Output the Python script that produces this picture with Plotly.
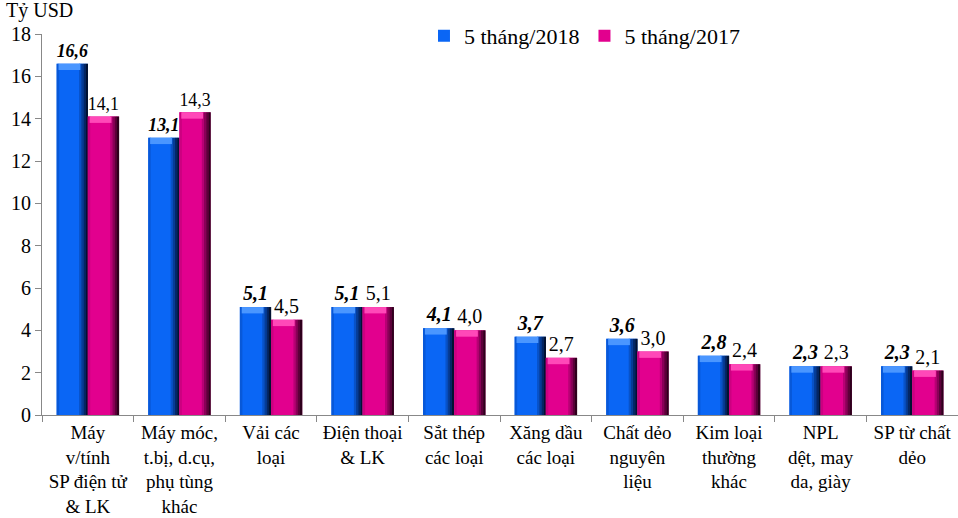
import plotly.graph_objects as go

categories = ["Máy<br>v/tính<br>SP điện tử<br>& LK", "Máy móc,<br>t.bị, d.cụ,<br>phụ tùng<br>khác",
              "Vải các<br>loại", "Điện thoại<br>& LK", "Sắt thép<br>các loại", "Xăng dầu<br>các loại",
              "Chất dẻo<br>nguyên<br>liệu", "Kim loại<br>thường<br>khác", "NPL<br>dệt, may<br>da, giày",
              "SP từ chất<br>dẻo"]
vals_2018 = [16.6, 13.1, 5.1, 5.1, 4.1, 3.7, 3.6, 2.8, 2.3, 2.3]
vals_2017 = [14.1, 14.3, 4.5, 5.1, 4.0, 2.7, 3.0, 2.4, 2.3, 2.1]
series_names = ["5 tháng/2018", "5 tháng/2017"]
y_ticks = [0, 2, 4, 6, 8, 10, 12, 14, 16, 18]

FONT = "Liberation Serif"
W = 0.34  # bar width in category units

def fmt(v):
    return f"{v:.1f}".replace(".", ",")

fig = go.Figure()

styles = [
    dict(vals=vals_2018, name=series_names[0], off=-W, main="#0a66f5",
         shades=["#0852c8", "#063c96", "#042664", "#021232"], light="#4a96ff", left="#0858d8",
         tfont=dict(family=FONT, size=20, color="black", weight="bold", style="italic")),
    dict(vals=vals_2017, name=series_names[1], off=0.0, main="#e2008e",
         shades=["#b80074", "#8a0058", "#5c003a", "#2e001c"], light="#ff48b8", left="#cc0080",
         tfont=dict(family=FONT, size=20, color="black")),
]

for s in styles:
    # main bar
    fig.add_trace(go.Bar(
        x=categories, y=s["vals"], name=s["name"], offset=s["off"], width=W,
        marker=dict(color=s["main"], line=dict(width=0)),
        text=[fmt(v) for v in s["vals"]], textposition="outside", textfont=s["tfont"],
        cliponaxis=False, hoverinfo="skip",
    ))
    # left slight shade
    fig.add_trace(go.Bar(
        x=categories, y=s["vals"], offset=s["off"], width=W * 0.08, showlegend=False,
        marker=dict(color=s["left"], line=dict(width=0)), hoverinfo="skip", textposition="none",
    ))
    # right dark gradient strips
    n = len(s["shades"])
    for i, c in enumerate(s["shades"]):
        frac0 = 0.72 + i * (0.28 / n)
        fig.add_trace(go.Bar(
            x=categories, y=s["vals"], offset=s["off"] + W * frac0, width=W * 0.28 / n + 0.002,
            showlegend=False, marker=dict(color=c, line=dict(width=0)),
            hoverinfo="skip", textposition="none",
        ))
    # top bevel highlight
    fig.add_trace(go.Bar(
        x=categories, y=[0.3] * len(s["vals"]), base=[v - 0.3 for v in s["vals"]],
        offset=s["off"] + W * 0.06, width=W * 0.7, showlegend=False,
        marker=dict(color=s["light"], line=dict(width=0)), hoverinfo="skip", textposition="none",
    ))

fig.update_layout(
    width=958, height=518,
    barmode="overlay",
    plot_bgcolor="white", paper_bgcolor="white",
    margin=dict(l=42, r=0, t=34, b=103, autoexpand=False),
    font=dict(family=FONT, size=19, color="black"),
    showlegend=True,
    legend=dict(orientation="h", x=0.417, y=1.05, xanchor="left", yanchor="top",
                font=dict(family=FONT, size=22), bgcolor="rgba(0,0,0,0)",
                itemwidth=30, traceorder="normal"),
    annotations=[dict(text="Tỷ USD", xref="paper", yref="paper", x=-0.041, y=1.0,
                      xanchor="left", yanchor="bottom", yshift=10, showarrow=False,
                      font=dict(family=FONT, size=20))],
)
fig.update_xaxes(
    showline=True, linecolor="#888888", linewidth=1, automargin=False,
    ticks="outside", tickson="boundaries", ticklen=6, tickcolor="#888888",
    showgrid=False, tickfont=dict(family=FONT, size=19), range=[-0.5, 9.5],
)
fig.update_yaxes(
    range=[0, 18], tickvals=y_ticks, showline=True, linecolor="#888888", linewidth=1,
    automargin=False,
    ticks="outside", ticklen=6, tickcolor="#888888", showgrid=False, zeroline=False,
    tickfont=dict(family=FONT, size=20),
)

# remove the default 8px body margin so the 958x518 figure fills the window
fig.write_html("out.html", config={"displayModeBar": False},
               post_script="document.body.style.margin='0';")
